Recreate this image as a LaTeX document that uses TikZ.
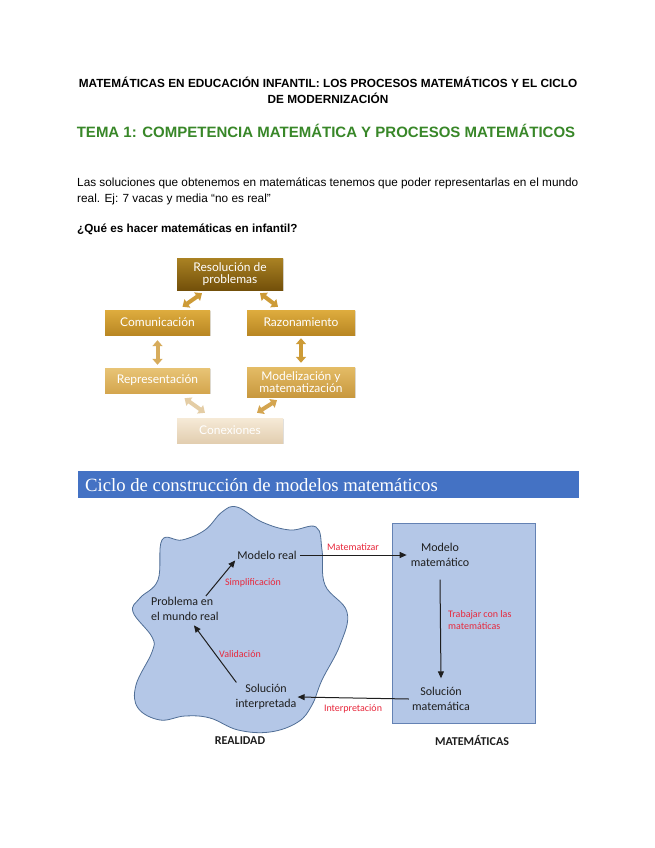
\documentclass[tikz,border=0pt]{standalone}
\usepackage{fontspec}
\setmainfont{Liberation Sans}
\newfontfamily\serifface{Liberation Serif}
\newfontfamily\calib{Carlito}
\newfontfamily\gill{Lato}
\usetikzlibrary{arrows.meta,shadows}
\definecolor{titlegreen}{RGB}{56,135,40}
\definecolor{barblue}{RGB}{68,114,196}
\definecolor{paleblue}{RGB}{180,199,231}
\definecolor{blobline}{RGB}{80,110,150}
\definecolor{boxline}{RGB}{100,130,180}
\definecolor{lblred}{RGB}{232,40,60}
\definecolor{darktxt}{RGB}{30,30,30}
\tikzset{
  goldbox/.style={rectangle, text=white, align=center, font=\gill\fontsize{12}{13}\selectfont,
     inner sep=2pt, drop shadow={opacity=0.25, shadow xshift=1pt, shadow yshift=-1pt}},
  dblarrow/.style={line width=4pt, {Triangle[width=10pt,length=6pt]}-{Triangle[width=10pt,length=6pt]}},
  cyctxt/.style={font=\calib\fontsize{12}{14.5}\selectfont, text=darktxt, inner sep=1pt},
  redlbl/.style={font=\calib\fontsize{10}{12}\selectfont, text=lblred, inner sep=1pt},
  cycarrow/.style={line width=1pt, draw=darktxt, -{Triangle[width=6pt,length=7pt]}},
  sidelbl/.style={font=\calib\bfseries\fontsize{12}{14}\selectfont, text=darktxt}
}
\begin{document}
\begin{tikzpicture}[x=1pt,y=-1pt]
\useasboundingbox[fill=white] (0,0) rectangle (655,848);

% headings
\node[anchor=base, font=\bfseries\fontsize{11.8}{12}\selectfont] (hdr1) at (328,88)
  {MATEMÁTICAS EN EDUCACIÓN INFANTIL: LOS PROCESOS MATEMÁTICOS Y EL CICLO};
\node[anchor=base, font=\bfseries\fontsize{11.8}{12}\selectfont] (hdr2) at (328,104)
  {DE MODERNIZACIÓN};
\node[anchor=base, font=\bfseries\fontsize{15}{18}\selectfont, text=titlegreen] (tema) at (326,138)
  {TEMA 1: COMPETENCIA MATEMÁTICA Y PROCESOS MATEMÁTICOS};
\node[anchor=base west, inner sep=0pt, font=\fontsize{11.8}{13}\selectfont] (body1) at (77,186)
  {Las soluciones que obtenemos en matemáticas tenemos que poder representarlas en el mundo};
\node[anchor=base west, inner sep=0pt, font=\fontsize{11.8}{13}\selectfont] (body2) at (77,202)
  {real. Ej: 7 vacas y media “no es real”};
\node[anchor=base west, inner sep=0pt, font=\bfseries\fontsize{11.7}{13}\selectfont] (quest) at (77,232)
  {¿Qué es hacer matemáticas en infantil?};

% gold diagram
\node[goldbox, minimum width=106pt, minimum height=32pt, top color={rgb,255:red,170;green,130;blue,35}, bottom color={rgb,255:red,115;green,80;blue,10}, font=\gill\fontsize{12}{12.5}\selectfont]
  (res) at (230,274) {Resolución de\\problemas};
\node[goldbox, minimum width=105pt, minimum height=25pt, top color={rgb,255:red,222;green,172;blue,62}, bottom color={rgb,255:red,185;green,135;blue,35}]
  (com) at (157.5,322.5) {Comunicación};
\node[goldbox, minimum width=108pt, minimum height=25pt, top color={rgb,255:red,222;green,172;blue,62}, bottom color={rgb,255:red,185;green,135;blue,35}]
  (raz) at (301,322.5) {Razonamiento};
\node[goldbox, minimum width=105pt, minimum height=25pt, top color={rgb,255:red,232;green,196;blue,118}, bottom color={rgb,255:red,212;green,166;blue,78}]
  (rep) at (157.5,380.5) {Representación};
\node[goldbox, minimum width=108pt, minimum height=30pt, top color={rgb,255:red,228;green,188;blue,102}, bottom color={rgb,255:red,200;green,152;blue,62}, font=\gill\fontsize{12}{12.5}\selectfont]
  (mod) at (301,382) {Modelización y\\matematización};
\node[goldbox, minimum width=106pt, minimum height=25pt, top color={rgb,255:red,246;green,234;blue,215}, bottom color={rgb,255:red,226;green,206;blue,176}]
  (con) at (230,430.5) {Conexiones};

\draw[dblarrow, draw={rgb,255:red,205;green,155;blue,55}, fill={rgb,255:red,205;green,155;blue,55}]
  ([xshift=25pt,yshift=3pt]com.north) -- ([xshift=-28pt,yshift=-3pt]res.south);
\draw[dblarrow, draw={rgb,255:red,205;green,155;blue,55}, fill={rgb,255:red,205;green,155;blue,55}]
  ([xshift=30pt,yshift=-3pt]res.south) -- ([xshift=-23pt,yshift=3pt]raz.north);
\draw[dblarrow, draw={rgb,255:red,215;green,172;blue,92}, fill={rgb,255:red,215;green,172;blue,92}]
  ([yshift=-5pt]com.south) -- ([yshift=3pt]rep.north);
\draw[dblarrow, draw={rgb,255:red,205;green,155;blue,55}, fill={rgb,255:red,205;green,155;blue,55}]
  ([yshift=-3pt]raz.south) -- ([yshift=4pt]mod.north);
\draw[dblarrow, draw={rgb,255:red,228;green,205;blue,165}, fill={rgb,255:red,228;green,205;blue,165}]
  ([xshift=27pt,yshift=-5pt]rep.south) -- ([xshift=-25pt,yshift=5pt]con.north);
\draw[dblarrow, draw={rgb,255:red,212;green,165;blue,80}, fill={rgb,255:red,212;green,165;blue,80}]
  ([xshift=-24pt,yshift=-3pt]mod.south) -- ([xshift=27pt,yshift=5pt]con.north);

% blue bar
\node[fill=barblue, minimum width=501pt, minimum height=27pt, inner sep=0pt] (bar) at (328.5,484.5) {};
\node[anchor=base west, inner sep=0pt, text=white, font=\serifface\fontsize{18.7}{20}\selectfont] (bartxt) at (85,491)
  {Ciclo de construcción de modelos matemáticos};

% blob (REALIDAD)
\draw[fill=paleblue, draw=blobline, line width=0.8pt] plot[smooth cycle, tension=0.65] coordinates {
  (237,507) (262,522) (290,530) (316,527) (322,550) (325,585) (347,612) (340,645)
  (322,680) (312,705) (298,722) (270,732) (238,730) (210,718) (185,716) (160,720)
  (138,708) (136,685) (152,652) (152,637) (133,612) (140,598) (158,580) (162,540)
  (182,540) (205,530) (222,512)};

% MATEMATICAS box
\draw[fill=paleblue, draw=boxline, line width=0.9pt] (392,523) rectangle (535,723);

% cycle nodes
\node[cyctxt] (modreal) at (267,555) {Modelo real};
\node[cyctxt, align=left, anchor=north west] (prob) at (150,596) {Problema en\\el mundo real};
\node[cyctxt, align=center] (solint) at (266,697) {Solución\\interpretada};
\node[cyctxt, align=center] (modmat) at (440,555) {Modelo\\matemático};
\node[cyctxt, align=center] (solmat) at (441,699) {Solución\\matemática};

\draw[cycarrow] ([xshift=-14pt]prob.north east) -- ([xshift=-1pt]modreal.south west);
\draw[cycarrow] ([xshift=2pt,yshift=1pt]solint.north west) -- ([xshift=9pt,yshift=-4pt]prob.south);
\draw[cycarrow] ([xshift=2pt]modreal.east) -- ([xshift=-3pt]modmat.west);
\draw[cycarrow] ([yshift=-12pt]modmat.south) -- ([yshift=8pt]solmat.north);
\draw[cycarrow] ([xshift=-2pt]solmat.west) -- (solint.east);

\node[redlbl] (simp) at (253,583) {Simplificación};
\node[redlbl] (valid) at (240,654) {Validación};
\node[redlbl] (matz) at (353,547) {Matematizar};
\node[redlbl] (interp) at (353,709) {Interpretación};
\node[redlbl, align=left, anchor=west] (trab) at (447,620) {Trabajar con las\\matemáticas};

\node[sidelbl] (realidad) at (240,741) {REALIDAD};
\node[sidelbl] (matlbl) at (472,740) {MATEMÁTICAS};
\end{tikzpicture}
\end{document}
